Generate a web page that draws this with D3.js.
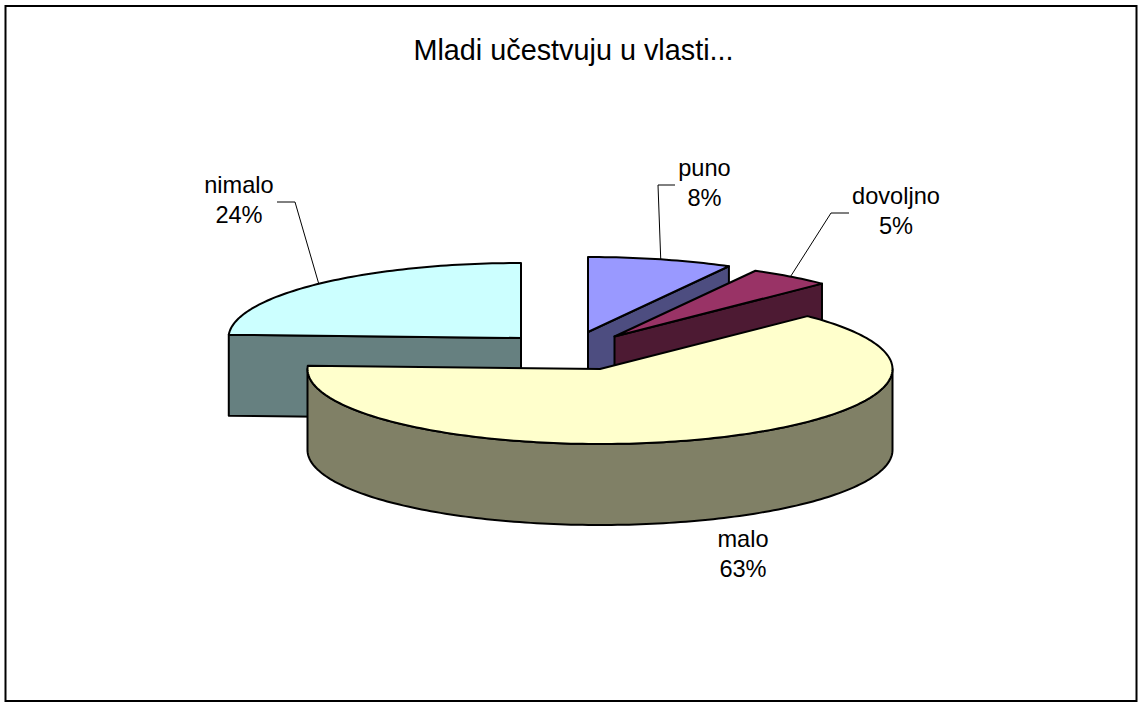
<!DOCTYPE html>
<html><head><meta charset="utf-8">
<script src="https://cdn.jsdelivr.net/npm/d3@7/dist/d3.min.js"></script>
<style>html,body{margin:0;padding:0;background:#fff}svg{display:block}text{font-family:"Liberation Sans",Arial,sans-serif;fill:#000}</style>
</head><body><svg id="c" width="1138" height="702"></svg>
<script>
const titleText = "Mladi učestvuju u vlasti...";
const categories = ["puno", "dovoljno", "malo", "nimalo"];
const values = [8, 4.55, 63.15, 24.3];
const topColors = ["#9999FF", "#993366", "#FFFFCC", "#CCFFFF"];
const sideColors = ["#4D4D80", "#4D1A33", "#808066", "#668080"];

// layout (not data)
const W = 1138, H = 702;
const RX = 292.5, RY = 75, DEPTH = 81;
const apex = { puno: [588, 332], dovoljno: [614.5, 336.5], malo: [600, 369], nimalo: [521, 338] };
const labelPos = { puno: [704.5, 176], dovoljno: [896, 204], malo: [743, 547], nimalo: [239, 193] };
const elbows = { puno: [[675, 185], [658, 185]], dovoljno: [[849, 213], [831, 213]], nimalo: [[277, 202], [295, 202]] };
const paintOrder = ["nimalo", "puno", "dovoljno", "malo"];

const svg = d3.select("#c");
svg.append("rect").attr("x", 5.5).attr("y", 6).attr("width", 1131).attr("height", 695)
  .attr("fill", "#fff").attr("stroke", "#000").attr("stroke-width", 2);

svg.append("text").attr("x", 573.5).attr("y", 60).attr("text-anchor", "middle")
  .attr("font-size", 28.8).text(titleText);

const total = d3.sum(values);
const pie = d3.pie().sort(null).value(d => d.value);
const arcs = pie(categories.map((name, i) => ({ name, value: values[i], i })));
const x = d3.scaleLinear().domain([-1, 1]).range([-RX, RX]);
const y = d3.scaleLinear().domain([-1, 1]).range([-RY, RY]);
const rim = (a, c, dz = 0) => [c[0] + x(Math.sin(a)), c[1] + y(-Math.cos(a)) + dz];
const line = d3.line();
const steps = (a0, a1) => {
  const n = Math.max(2, Math.ceil(Math.abs(a1 - a0) / 0.02));
  return d3.range(n + 1).map(k => a0 + (a1 - a0) * k / n);
};
const face = (pts, fill) => g => g.append("path").attr("d", line(pts) + "Z").attr("fill", fill)
  .attr("stroke", "#000").attr("stroke-width", 2).attr("stroke-linejoin", "round");

paintOrder.forEach(name => {
  const d = arcs.find(a => a.data.name === name);
  const c = apex[name], g = svg.append("g"), side = sideColors[d.data.i];
  const wall = a => face([c, rim(a, c), rim(a, c, DEPTH), [c[0], c[1] + DEPTH]], side)(g);
  if (d.endAngle < Math.PI) wall(d.endAngle);
  if (d.startAngle > Math.PI) wall(d.startAngle);
  const a0 = Math.max(d.startAngle, Math.PI / 2), a1 = Math.min(d.endAngle, 3 * Math.PI / 2);
  if (a1 > a0) {
    const s = steps(a0, a1);
    face([...s.map(a => rim(a, c)), ...s.slice().reverse().map(a => rim(a, c, DEPTH))], side)(g);
  }
  face([c, ...steps(d.startAngle, d.endAngle).map(a => rim(a, c))], topColors[d.data.i])(g);
});

arcs.forEach(d => {
  const name = d.data.name, p = labelPos[name];
  if (elbows[name]) {
    const mid = (d.startAngle + d.endAngle) / 2;
    svg.append("path").attr("fill", "none").attr("stroke", "#000").attr("stroke-width", 1)
      .attr("d", line([...elbows[name], rim(mid, apex[name])]));
  }
  const t = svg.append("text").attr("text-anchor", "middle").attr("font-size", 23.6);
  t.append("tspan").attr("x", p[0]).attr("y", p[1]).text(name);
  t.append("tspan").attr("x", p[0]).attr("y", p[1] + 30).text(d3.format(".0%")(d.data.value / total));
});
</script></body></html>
